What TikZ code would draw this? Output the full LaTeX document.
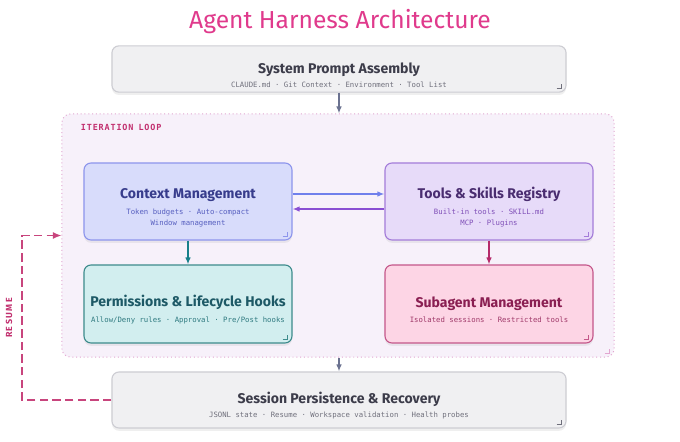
\documentclass[tikz,border=0pt]{standalone}
\usepackage{fontspec}
\usepackage{xcolor}
\usetikzlibrary{arrows.meta,calc,positioning,shadows}
\setmainfont{Fira Sans}
\newfontfamily\headfont{Fira Sans}
\newfontfamily\codefont{DejaVu Sans Mono}
\definecolor{titlepink}{HTML}{E03A8C}
\definecolor{greyfill}{HTML}{F0F0F2}
\definecolor{greyline}{HTML}{CDCDD3}
\definecolor{greyhead}{HTML}{3C3C4A}
\definecolor{greysub}{HTML}{70707C}
\definecolor{flowgrey}{HTML}{6B7290}
\definecolor{loopfill}{HTML}{F7F1FA}
\definecolor{loopline}{HTML}{E2A6D0}
\definecolor{loopred}{HTML}{C2306F}
\definecolor{ctxfill}{HTML}{D8DCFB}
\definecolor{ctxline}{HTML}{8D95EC}
\definecolor{ctxhead}{HTML}{373C8C}
\definecolor{ctxsub}{HTML}{5860C0}
\definecolor{toolfill}{HTML}{E7DBF9}
\definecolor{toolline}{HTML}{A47CD9}
\definecolor{toolhead}{HTML}{4A2D70}
\definecolor{toolsub}{HTML}{8050B8}
\definecolor{permfill}{HTML}{D2EEEF}
\definecolor{permline}{HTML}{3D8B8C}
\definecolor{permhead}{HTML}{1D5966}
\definecolor{permsub}{HTML}{2F7A80}
\definecolor{subfill}{HTML}{FDD5E5}
\definecolor{subline}{HTML}{C4578A}
\definecolor{subhead}{HTML}{8A1F52}
\definecolor{subsub}{HTML}{A03A6A}
\definecolor{bluearrow}{HTML}{7080EC}
\definecolor{purplearrow}{HTML}{8A4FD3}
\definecolor{tealarrow}{HTML}{17808A}
\definecolor{pinkarrow}{HTML}{B52A6A}
\newcommand\headtxt{\headfont\bfseries\fontsize{10}{12}\selectfont\rule{0pt}{16pt}}
\newcommand\subtxt{\codefont\fontsize{5.2}{7.8}\selectfont}
\tikzset{
  block/.style={draw,rounded corners=5pt,line width=0.8pt,align=center,
    minimum width=5.2cm,minimum height=1.925cm,
    drop shadow={opacity=0.12,shadow xshift=0pt,shadow yshift=-2pt}},
  wideblock/.style={block,draw=greyline,fill=greyfill,text=greyhead,minimum width=11.35cm},
  flow/.style={-{Latex[length=5pt,width=4pt]},line width=1.1pt},
  cornermark/.style={line width=0.6pt}
}

\begin{document}
\begin{tikzpicture}[x=0.025cm,y=-0.025cm]
\useasboundingbox[fill=white] (0,0) rectangle (680,442);
\node[font=\headfont\fontsize{17.5}{20}\selectfont,text=titlepink] (title) at (340,22) {Agent Harness Architecture};
% outer loop
\node[draw=loopline,dotted,fill=loopfill,rounded corners=6pt,line width=0.7pt,minimum width=13.8cm,minimum height=6.075cm] (loop) at (338,235.5) {};
\node[anchor=west,text=loopred,font=\codefont\bfseries\fontsize{6}{7}\selectfont] (looplabel) at (76,127) {I\kern.6pt T\kern.6pt E\kern.6pt R\kern.6pt A\kern.6pt T\kern.6pt I\kern.6pt O\kern.6pt N\ L\kern.6pt O\kern.6pt O\kern.6pt P};
% blocks
\node[wideblock,minimum height=1.05cm] (sys) at (339,69) {\headtxt System Prompt Assembly\\[-1.8pt]\subtxt\color{greysub}CLAUDE.md · Git Context · Environment · Tool List};
\node[block,draw=ctxline,fill=ctxfill,text=ctxhead] (ctx) at (188,201.5) {\headtxt Context Management\\[-0.6pt]\subtxt\color{ctxsub}Token budgets · Auto-compact\\[-4.3pt]\subtxt\color{ctxsub}Window management};
\node[block,draw=toolline,fill=toolfill,text=toolhead] (tools) at (489,201.5) {\headtxt Tools \& Skills Registry\\[-0.6pt]\subtxt\color{toolsub}Built-in tools · SKILL.md\\[-4.3pt]\subtxt\color{toolsub}MCP · Plugins};
\node[block,draw=permline,fill=permfill,text=permhead,minimum height=1.95cm] (perm) at (188,304) {\headtxt Permissions \& Lifecycle Hooks\\[-1.3pt]\subtxt\color{permsub}Allow/Deny rules · Approval · Pre/Post hooks};
\node[block,draw=subline,fill=subfill,text=subhead,minimum height=1.95cm] (sub) at (489,304) {\headtxt Subagent Management\\[-1.3pt]\subtxt\color{subsub}Isolated sessions · Restricted tools};
\node[wideblock,minimum height=1.4cm] (sess) at (339,400) {\headtxt Session Persistence \& Recovery\\[-2.6pt]\subtxt\color{greysub}JSONL state · Resume · Workspace validation · Health probes};
% corner marks
\foreach \b/\c in {sys/greysub,ctx/ctxline,tools/toolline,perm/permline,sub/subline,sess/greysub,loop/loopline}
  \draw[cornermark,\c] ($(\b.south east)+(-10,-4)$) -- ++(5,0) -- ++(0,-5);
% connectors
\draw[flow,flowgrey] (sys.south) -- (sys.south |- loop.north);
\draw[flow,bluearrow] ([yshift=0.1875cm]ctx.east) -- ([yshift=0.1875cm]tools.west);
\draw[flow,purplearrow] ([yshift=-0.1875cm]tools.west) -- ([yshift=-0.1875cm]ctx.east);
\draw[flow,tealarrow] (ctx.south) -- (perm.north);
\draw[flow,pinkarrow] (tools.south) -- (sub.north);
\draw[flow,flowgrey] (loop.south -| sess.north) -- (sess.north);
% resume
\coordinate (bend) at (22,400);
\draw[-{Latex[length=6pt,width=5pt]},line width=1.1pt,loopred!90,dash pattern=on 6pt off 3pt] (sess.west) -- (bend) |- (loop.west);
\node[rotate=90,text=loopred,font=\headfont\bfseries\fontsize{6.3}{7}\selectfont] (resume) at (9,318) {R\,E\,S\,U\,M\,E};
\end{tikzpicture}
\end{document}
